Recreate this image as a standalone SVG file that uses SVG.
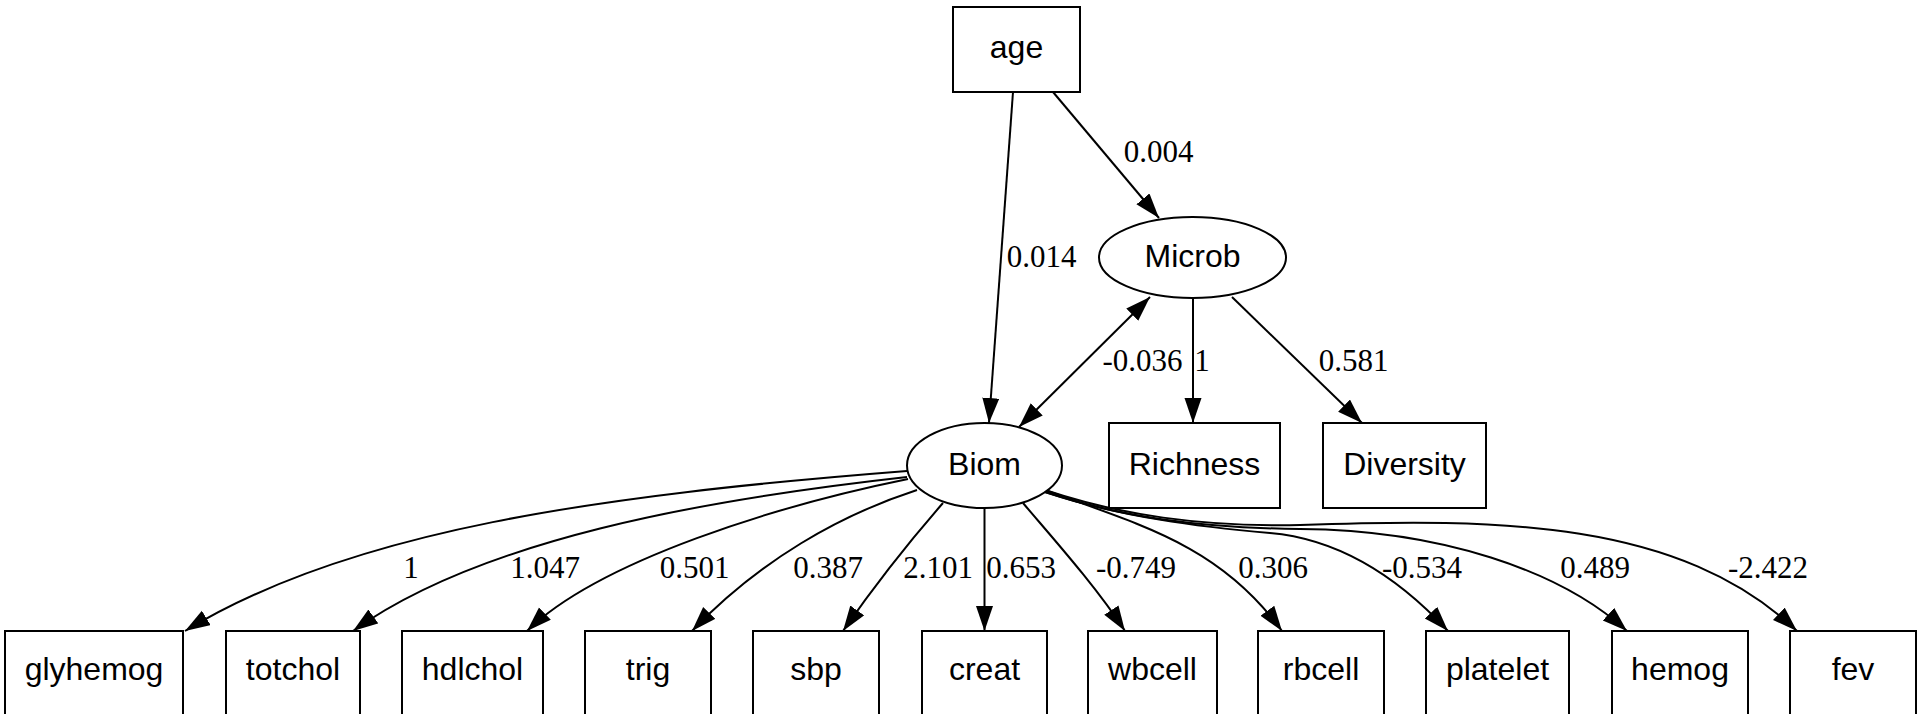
<svg xmlns="http://www.w3.org/2000/svg" width="1920" height="714" viewBox="0 0 1920 714">
<style>
.n rect, .n ellipse { fill: #fff; stroke: #000; stroke-width: 2; }
.n text { font-family: "Liberation Sans", Arial, sans-serif; font-size: 32px; text-anchor: middle; fill: #000; }
.e path { fill: none; stroke: #000; stroke-width: 2; marker-end: url(#ah); }
.e path.b { marker-start: url(#ah2); }
.l text { font-family: "Liberation Serif", "Times New Roman", serif; font-size: 31px; text-anchor: middle; fill: #000; }
</style>
<defs>
<marker id="ah" markerUnits="userSpaceOnUse" markerWidth="26" markerHeight="18" refX="25" refY="8.5" orient="auto" viewBox="0 0 26 18">
<path d="M0,0 L25,8.5 L0,17 z" fill="#000"/>
</marker>
<marker id="ah2" markerUnits="userSpaceOnUse" markerWidth="26" markerHeight="18" refX="25" refY="8.5" orient="auto-start-reverse" viewBox="0 0 26 18">
<path d="M0,0 L25,8.5 L0,17 z" fill="#000"/>
</marker>
</defs>
<rect width="1920" height="714" fill="#fff"/>
<g id="edges" class="e">
<path d="M1053,92 L1159,218"/>
<path d="M1013,92 L989,423"/>
<path class="b" d="M1019,427 L1150,297"/>
<path d="M1193,298 L1193,423"/>
<path d="M1232,297 L1362,423"/>
<path d="M907,471 C600,495 350,530 185,631"/>
<path d="M907,477 C700,500 480,540 353,631"/>
<path d="M908,479 C780,505 600,560 527,631"/>
<path d="M917,490 C840,515 760,560 692,631"/>
<path d="M943,503 C915,535 875,585 843,631"/>
<path d="M984.5,508 L984.5,631"/>
<path d="M1023,503 C1050,535 1095,585 1125,631"/>
<path d="M1045,490 C1140,525 1220,545 1282,631"/>
<path d="M1045,492 C1120,517 1200,527 1270,533 C1350,540 1410,590 1448,631"/>
<path d="M1045,492 C1120,517 1200,528 1300,529 C1440,530 1560,570 1627,631"/>
<path d="M1045,490 C1120,515 1200,527 1300,525 C1500,518 1680,520 1797,631"/>
</g>
<g id="labels" class="l">
<text x="1158.5" y="162">0.004</text>
<text x="1041.5" y="267">0.014</text>
<text x="1142.5" y="371">-0.036</text>
<text x="1202" y="371">1</text>
<text x="1353.5" y="371">0.581</text>
<text x="411" y="578">1</text>
<text x="545" y="578">1.047</text>
<text x="694.5" y="578">0.501</text>
<text x="828" y="578">0.387</text>
<text x="938" y="578">2.101</text>
<text x="1021" y="578">0.653</text>
<text x="1136" y="578">-0.749</text>
<text x="1273" y="578">0.306</text>
<text x="1422" y="578">-0.534</text>
<text x="1595" y="578">0.489</text>
<text x="1768" y="578">-2.422</text>
</g>
<g id="age" class="n"><rect x="953" y="7" width="127" height="85"/><text x="1016.5" y="58">age</text></g>
<g id="Microb" class="n"><ellipse cx="1192.5" cy="257.5" rx="93.5" ry="40.5"/><text x="1192.5" y="267">Microb</text></g>
<g id="Biom" class="n"><ellipse cx="984.5" cy="465.5" rx="77.5" ry="42.5"/><text x="984.5" y="475">Biom</text></g>
<g id="Richness" class="n"><rect x="1109" y="423" width="171" height="85"/><text x="1194.5" y="475">Richness</text></g>
<g id="Diversity" class="n"><rect x="1323" y="423" width="163" height="85"/><text x="1404.5" y="475">Diversity</text></g>
<g id="glyhemog" class="n"><rect x="5" y="631" width="178" height="85"/><text x="94" y="680">glyhemog</text></g>
<g id="totchol" class="n"><rect x="226" y="631" width="134" height="85"/><text x="293" y="680">totchol</text></g>
<g id="hdlchol" class="n"><rect x="402" y="631" width="141" height="85"/><text x="472.5" y="680">hdlchol</text></g>
<g id="trig" class="n"><rect x="585" y="631" width="126" height="85"/><text x="648" y="680">trig</text></g>
<g id="sbp" class="n"><rect x="753" y="631" width="126" height="85"/><text x="816" y="680">sbp</text></g>
<g id="creat" class="n"><rect x="922" y="631" width="125" height="85"/><text x="984.5" y="680">creat</text></g>
<g id="wbcell" class="n"><rect x="1088" y="631" width="129" height="85"/><text x="1152.5" y="680">wbcell</text></g>
<g id="rbcell" class="n"><rect x="1258" y="631" width="126" height="85"/><text x="1321" y="680">rbcell</text></g>
<g id="platelet" class="n"><rect x="1426" y="631" width="143" height="85"/><text x="1497.5" y="680">platelet</text></g>
<g id="hemog" class="n"><rect x="1612" y="631" width="136" height="85"/><text x="1680" y="680">hemog</text></g>
<g id="fev" class="n"><rect x="1790" y="631" width="126" height="85"/><text x="1853" y="680">fev</text></g>
</svg>
